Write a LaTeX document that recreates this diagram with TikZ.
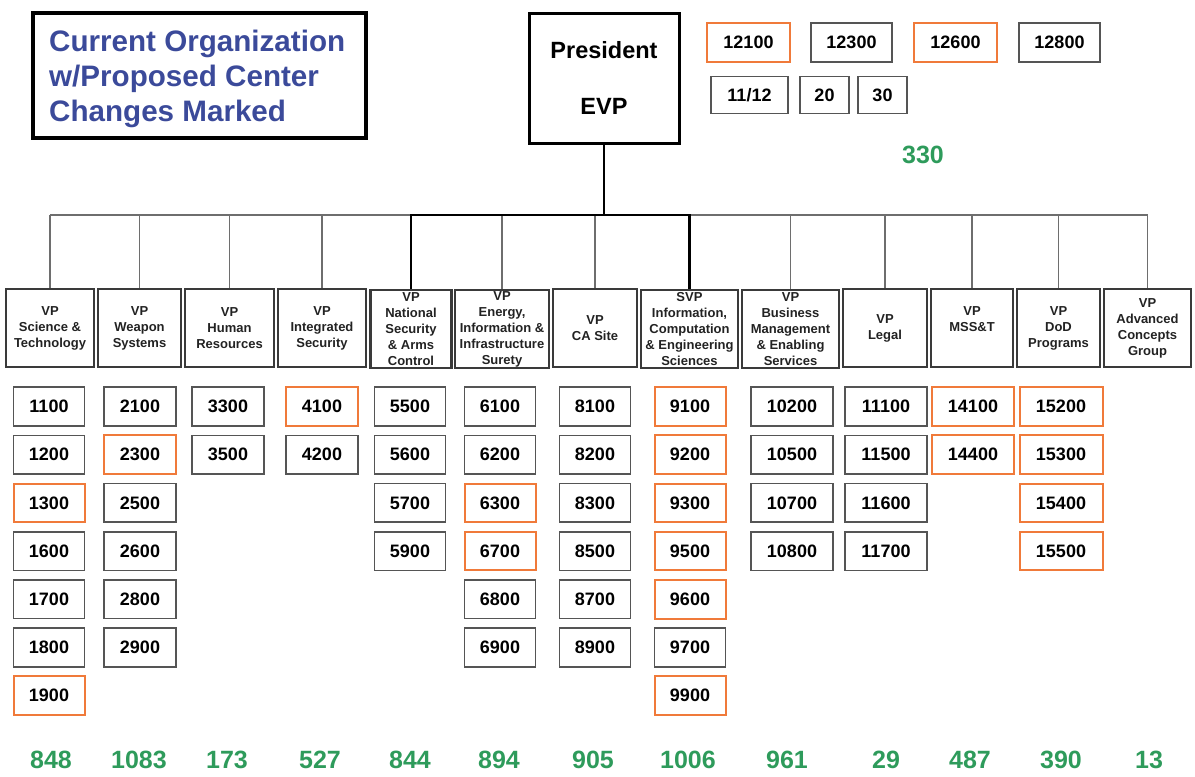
\documentclass[tikz,border=0pt]{standalone}
\usepackage{fontspec}
\setmainfont{Liberation Sans}
\definecolor{chgorange}{HTML}{F07A3A}
\definecolor{boxgray}{HTML}{555555}
\definecolor{vpgray}{HTML}{3A3A3A}
\definecolor{textdark}{HTML}{222222}
\definecolor{totgreen}{HTML}{2E9B5B}
\definecolor{titleblue}{HTML}{3B4A9A}
\definecolor{linegray}{HTML}{6E6E6E}
\begin{document}
\begin{tikzpicture}[x=1pt,y=-1pt,
  titlebox/.style={draw=black, line width=4pt, inner sep=0pt},
  titletext/.style={inner sep=0pt, align=left, text=titleblue,
    font=\fontsize{29.6}{35}\selectfont\bfseries},
  presbox/.style={draw=black, line width=3pt, inner sep=0pt, align=center,
    font=\fontsize{23.5}{56}\selectfont\bfseries},
  vpbox/.style={draw=vpgray, line width=2.4pt, minimum height=78pt, inner sep=0pt, align=center,
    text=textdark, font=\fontsize{13}{16}\selectfont\bfseries},
  numbox/.style={draw=boxgray, line width=1.6pt, minimum height=38.5pt, inner sep=0pt,
    font=\fontsize{18}{20}\selectfont\bfseries},
  st0/.style={},
  st1/.style={draw=chgorange, line width=2pt},
  tot/.style={text=totgreen, inner sep=0pt, font=\fontsize{25}{28}\selectfont\bfseries},
  thinline/.style={draw=linegray, line width=1.5pt},
  thickline/.style={draw=black, line width=2.5pt}]
\useasboundingbox (0,0) rectangle (1195,777);

% title
\node[titlebox, minimum width=333pt, minimum height=125pt] (title) at (199.5,75.5) {};
\node[titletext, anchor=west] (titletxt) at (49,79)
  {Current Organization\\w/Proposed Center\\Changes Marked};

% president
\node[presbox, minimum width=150pt, minimum height=130pt] (pres) at (604,78) {President\\EVP};

% top-right boxes
\node[numbox, st1, minimum width=83pt, minimum height=39pt] (n12100) at (748.5,42.5) {12100};
\node[numbox, minimum width=81pt, minimum height=39pt] (n12300) at (851.5,42.5) {12300};
\node[numbox, st1, minimum width=83pt, minimum height=39pt] (n12600) at (955.5,42.5) {12600};
\node[numbox, minimum width=81pt, minimum height=39pt] (n12800) at (1059.5,42.5) {12800};
\node[numbox, minimum width=77pt, minimum height=37pt] (n1112) at (749.5,95) {11/12};
\node[numbox, minimum width=49pt, minimum height=37pt] (n20) at (824.5,95) {20};
\node[numbox, minimum width=49pt, minimum height=37pt] (n30) at (882.5,95) {30};
\node[tot] (t0) at (923,155) {330};

% VP boxes
\node[vpbox, minimum width=88pt] (vp1) at (50,328) {VP\\Science \&\\Technology};
\node[vpbox, minimum width=83pt] (vp2) at (139.5,328) {VP\\Weapon\\Systems};
\node[vpbox, minimum width=89pt] (vp3) at (229.5,328) {VP\\Human\\Resources};
\node[vpbox, minimum width=88pt] (vp4) at (322,328) {VP\\Integrated\\Security};
\node[vpbox, minimum width=81pt] (vp5) at (411,329) {VP\\National\\Security\\\& Arms\\Control};
\node[vpbox, minimum width=94pt] (vp6) at (502,329) {VP\\Energy,\\Information \&\\Infrastructure\\Surety};
\node[vpbox, minimum width=84pt] (vp7) at (595,328) {VP\\CA Site};
\node[vpbox, minimum width=97pt] (vp8) at (689.5,329) {SVP\\Information,\\Computation\\\& Engineering\\Sciences};
\node[vpbox, minimum width=97pt] (vp9) at (790.5,329) {VP\\Business\\Management\\\& Enabling\\Services};
\node[vpbox, minimum width=84pt] (vp10) at (885,328) {VP\\Legal};
\node[vpbox, minimum width=82pt] (vp11) at (972,328) {VP\\MSS\&T\\\phantom{Xg}};
\node[vpbox, minimum width=83pt] (vp12) at (1058.5,328) {VP\\DoD\\Programs};
\node[vpbox, minimum width=87pt] (vp13) at (1147.5,328) {VP\\Advanced\\Concepts\\Group};

% connectors
\coordinate (bus) at (0,215);
\draw[thinline] (vp1.north |- bus) -- (vp13.north |- bus);
\foreach \k in {1,2,3,4,6,7,9,10,11,12,13}
  \draw[thinline] (vp\k.north) -- (vp\k.north |- bus);
\draw[thickline] (vp5.north) -- (vp5.north |- bus) -- (vp8.north |- bus) -- (vp8.north);
\draw[thickline] (pres.south) -- (pres.south |- bus);

% center boxes
\foreach \cx/\w/\lst in {
  49/71/{1100/0,1200/0,1300/1,1600/0,1700/0,1800/0,1900/1},
  140/72/{2100/0,2300/1,2500/0,2600/0,2800/0,2900/0},
  228/72/{3300/0,3500/0},
  322/72/{4100/1,4200/0},
  410/71/{5500/0,5600/0,5700/0,5900/0},
  500/71/{6100/0,6200/0,6300/1,6700/1,6800/0,6900/0},
  595/71/{8100/0,8200/0,8300/0,8500/0,8700/0,8900/0},
  690/71/{9100/1,9200/1,9300/1,9500/1,9600/1,9700/0,9900/1},
  792/82/{10200/0,10500/0,10700/0,10800/0},
  886/82/{11100/0,11500/0,11600/0,11700/0},
  973/82/{14100/1,14400/1},
  1061/83/{15200/1,15300/1,15400/1,15500/1}}{
  \foreach \lab/\c [count=\i from 0] in \lst
    \node[numbox, st\c, minimum width=\w pt] (n\lab) at ({\cx},{406.5+48.2*\i}) {\lab};
}

% totals
\foreach \x/\v [count=\j] in {51/848,139/1083,227/173,320/527,410/844,499/894,593/905,688/1006,787/961,886/29,970/487,1061/390,1149/13}
  \node[tot] (t\j) at (\x,760) {\v};
\end{tikzpicture}
\end{document}
